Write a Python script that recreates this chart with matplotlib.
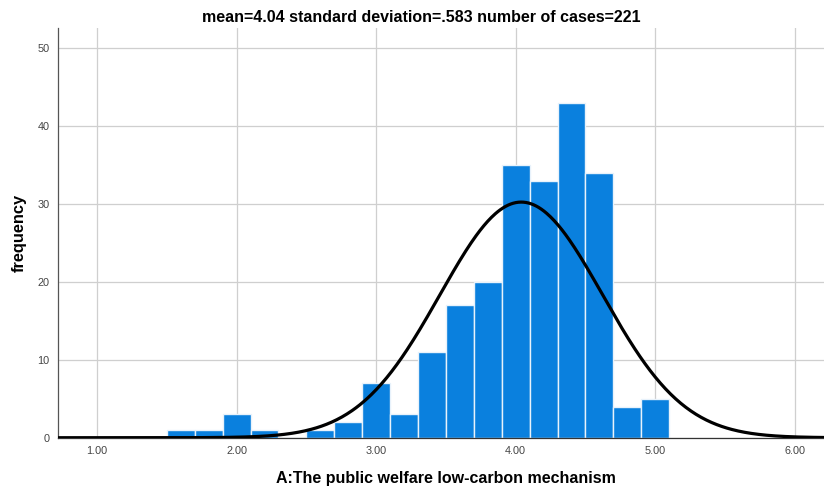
import numpy as np
import matplotlib
matplotlib.use("Agg")
import matplotlib.pyplot as plt

# Data
bin_left_edges = [1.5, 1.7, 1.9, 2.1, 2.3, 2.5, 2.7, 2.9, 3.1, 3.3, 3.5, 3.7,
                  3.9, 4.1, 4.3, 4.5, 4.7, 4.9]
frequencies = [1, 1, 3, 1, 0, 1, 2, 7, 3, 11, 17, 20, 35, 33, 43, 34, 4, 5]
bin_width = 0.2
mean = 4.04
sd = 0.583
n_cases = 221
x_ticks = [1.0, 2.0, 3.0, 4.0, 5.0, 6.0]
x_tick_labels = ["1.00", "2.00", "3.00", "4.00", "5.00", "6.00"]
y_ticks = [0, 10, 20, 30, 40, 50]

plt.rcParams['font.family'] = ['Liberation Sans', 'DejaVu Sans']

fig = plt.figure(figsize=(8.24, 4.9), dpi=100)
ax = fig.add_axes([0.0704, 0.1067, 0.9296, 0.8363])

ax.bar(bin_left_edges, frequencies, width=bin_width, align='edge',
       color='#0a80de', edgecolor='#e8f2fb', linewidth=1.0, zorder=2)

xs = np.linspace(0.72, 6.21, 600)
pdf = np.exp(-0.5 * ((xs - mean) / sd) ** 2) / (sd * np.sqrt(2 * np.pi))
ax.plot(xs, n_cases * bin_width * pdf, color='black', linewidth=2.3, zorder=3,
        solid_capstyle='butt')

ax.set_xlim(0.72, 6.21)
ax.set_ylim(0, 52.6)
ax.set_xticks(x_ticks)
ax.set_xticklabels(x_tick_labels)
ax.set_yticks(y_ticks)

ax.grid(True, color='#cfcfcf', linewidth=0.9, zorder=0)
ax.set_axisbelow(True)
for s in ['top', 'right']:
    ax.spines[s].set_visible(False)
ax.spines['left'].set_color('#555555')
ax.spines['left'].set_linewidth(0.9)
ax.spines['bottom'].set_color('#333333')
ax.spines['bottom'].set_linewidth(0.9)
ax.tick_params(axis='both', length=0, labelsize=7.8, labelcolor='#444444')
ax.tick_params(axis='x', pad=6)
ax.tick_params(axis='y', pad=6)

ax.set_title("mean=4.04 standard deviation=.583 number of cases=221",
             fontsize=11.5, fontweight='bold', pad=4, x=0.474)
ax.set_xlabel("A:The public welfare low-carbon mechanism", fontsize=11.5,
              fontweight='bold', labelpad=11)
ax.xaxis.label.set_x(0.5065)
ax.set_ylabel("frequency", fontsize=11.8, fontweight='bold', labelpad=8)

fig.savefig("out.png", dpi=100)
